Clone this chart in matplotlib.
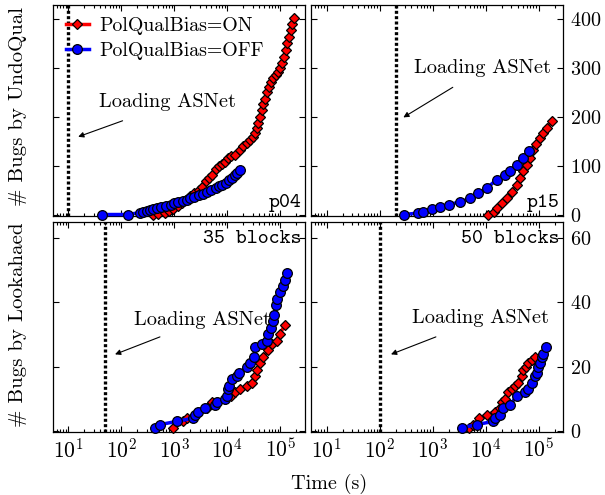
import matplotlib
matplotlib.use('Agg')
import matplotlib.pyplot as plt
from matplotlib.ticker import LogLocator, NullFormatter, FixedLocator

plt.rcParams['font.family'] = 'cmr10'
plt.rcParams['mathtext.fontset'] = 'cm'
plt.rcParams['axes.formatter.use_mathtext'] = True
plt.rcParams['axes.unicode_minus'] = False

# ---------------- data ----------------
# p04 (UndoQual)
p04_on_t = [400, 500, 660, 790, 950, 1150, 1380, 1660, 2000, 2400, 2880, 3290, 3980, 4570,
            5080, 6170, 7000, 7830, 9000, 10400, 12000, 14000, 17000, 20000, 23400, 26800,
            30000, 33300, 36000, 38500, 41500, 44600, 48000, 51400, 56000, 61200, 67000,
            73800, 82000, 91700, 100000, 109000, 118000, 127000, 136000, 146000, 157000,
            168000, 181000]
p04_on_n = [0, 1, 3, 7, 12, 17, 23, 30, 37, 43, 50, 57, 68, 75,
            81, 92, 100, 103, 108, 115, 119, 122, 131, 139, 146, 152,
            159, 166, 176, 186, 200, 213, 225, 237, 250, 261, 270,
            278, 285, 292, 300, 309, 322, 336, 350, 363, 377,
            390, 402]
p04_off_t = [43, 135, 224, 260, 300, 350, 400, 470, 560, 700, 850, 1000, 1200, 1450, 1700,
             2000, 2400, 2900, 3500, 4200, 5000, 6000, 7000, 8000, 9500, 11000, 12500,
             14000, 15500, 17000]
p04_off_n = [0, 0, 4, 6, 8, 10, 12, 14, 16, 18, 20, 23, 26, 28, 30,
             33, 36, 39, 42, 46, 50, 54, 58, 61, 65, 70, 75,
             80, 85, 91]

# p15 (UndoQual)
p15_on_t = [11200, 14100, 16200, 20000, 25100, 30900, 38900, 44700, 51300, 60300, 69200,
            79400, 91200, 107000, 123000, 141000, 182000]
p15_on_n = [0, 6, 13, 23, 33, 47, 60, 74, 88, 101, 115, 132, 145, 156, 166, 176, 192]
p15_off_t = [288, 537, 660, 955, 1380, 2000, 3310, 5130, 7240, 10500, 16200, 23400, 28800,
             38900, 51300, 66100]
p15_off_n = [0, 3, 6, 11, 16, 20, 26, 33, 43, 54, 71, 81, 88, 101, 115, 130]

# 35 blocks (Lookahead)
b35_on_t = [955, 1480, 1700, 2450, 4070, 5100, 9000, 12000, 14000, 17400, 23200, 28800,
            33300, 35700, 41400, 47900, 59000, 68500, 85000, 97000, 123000]
b35_on_n = [1, 3, 4, 5, 7, 9, 10, 11, 12, 13, 14, 15, 17, 19, 21, 23, 25, 27, 28, 30, 33]
b35_off_t = [433, 537, 1110, 2280, 2460, 2840, 3790, 5860, 6480, 9060, 10000, 10400, 10900,
             12100, 15000, 16600, 23200, 26800, 32000, 33300, 44600, 55300, 59400, 65900,
             71900, 76100, 81800, 87700, 98600, 111000, 123000, 136000]
b35_off_n = [1, 2, 3, 4, 5, 6, 7, 8, 9, 10, 11, 13, 14, 16, 17, 18, 20, 21, 23, 26, 27, 28,
             30, 32, 34, 36, 39, 41, 43, 45, 47, 49]

# 50 blocks (Lookahead)
b50_on_t = [4930, 5860, 7600, 10500, 15000, 18600, 20100, 23200, 26800, 30900, 35900, 41400,
            47900, 51400, 57800, 64000, 74100, 85500]
b50_on_n = [1, 2, 4, 5, 6, 7, 9, 10, 12, 13, 14, 15, 17, 19, 20, 21, 22, 23]
b50_off_t = [3540, 6790, 14000, 15000, 18600, 21600, 28900, 38600, 55300, 64000, 74100,
             85500, 92100, 98600, 106000, 114000, 123000, 138000]
b50_off_n = [1, 2, 3, 4, 5, 7, 8, 11, 12, 13, 15, 17, 18, 20, 21, 23, 24, 26]

asnet_load = [10, 200, 50, 100]
panel_tags = ['p04', 'p15', '35 blocks', '50 blocks']
top_yticks = [0, 100, 200, 300, 400]
bot_yticks = [0, 20, 40, 60]

# ---------------- figure ----------------
fig = plt.figure(figsize=(6.05, 4.95), dpi=100)
W, H = 605.0, 495.0
lefts = [52.7, 311.0]
aw = 252.3
rows = [(5.0, 215.5), (221.5, 431.7)]

series = [
    (p04_on_t, p04_on_n, p04_off_t, p04_off_n),
    (p15_on_t, p15_on_n, p15_off_t, p15_off_n),
    (b35_on_t, b35_on_n, b35_off_t, b35_off_n),
    (b50_on_t, b50_on_n, b50_off_t, b50_off_n),
]
# annotation geometry (axes fraction): text center, arrow tail, arrow head
ann = [
    ((0.453, 0.539), (0.277, 0.450), (0.101, 0.374)),
    ((0.678, 0.700), (0.562, 0.609), (0.366, 0.466)),
    ((0.594, 0.531), (0.425, 0.451), (0.247, 0.368)),
    ((0.670, 0.540), (0.495, 0.451), (0.317, 0.368)),
]

axes = []
for i in range(4):
    r, c = divmod(i, 2)
    top, bot = rows[r]
    ax = fig.add_axes([lefts[c] / W, 1 - bot / H, aw / W, (bot - top) / H])
    axes.append(ax)
    on_t, on_n, off_t, off_n = series[i]
    ax.plot(on_t, on_n, '-', color='red', lw=2.5, marker='D', ms=5.5,
            mfc='red', mec='black', mew=0.9, clip_on=False, zorder=3,
            label='PolQualBias=ON')
    ax.plot(off_t, off_n, '-', color='blue', lw=2.5, marker='o', ms=7,
            mfc='blue', mec='black', mew=0.9, clip_on=False, zorder=4,
            label='PolQualBias=OFF')
    ax.axvline(asnet_load[i], color='black', lw=2.4, ls=(0, (0.9, 0.7)), zorder=2)
    ax.set_xscale('log')
    ax.set_xlim(10 ** 0.706, 10 ** 5.466)
    if r == 0:
        ax.set_ylim(-2, 428)
        ax.yaxis.set_major_locator(FixedLocator(top_yticks))
    else:
        ax.set_ylim(-0.2, 65)
        ax.yaxis.set_major_locator(FixedLocator(bot_yticks))
    ax.xaxis.set_major_locator(LogLocator(base=10, numticks=12))
    ax.xaxis.set_minor_locator(LogLocator(base=10, subs=range(2, 10), numticks=12))
    ax.xaxis.set_minor_formatter(NullFormatter())
    ax.tick_params(axis='both', which='both', direction='in', top=True, bottom=True,
                   left=True, right=True, labelsize=14.5, width=0.8)
    ax.tick_params(axis='x', labelsize=15.5)
    ax.tick_params(axis='both', which='major', length=4)
    ax.tick_params(axis='both', which='minor', length=2.2)
    ax.tick_params(axis='y', labelleft=False, labelright=(c == 1), pad=5)
    ax.tick_params(axis='x', labelbottom=(r == 1), pad=4)
    for s in ax.spines.values():
        s.set_linewidth(0.9)

    (tx, ty), tail, head = ann[i]
    ax.text(tx, ty, 'Loading ASNet', transform=ax.transAxes, ha='center', va='center',
            fontsize=14.6)
    ax.annotate('', xy=head, xytext=tail, xycoords='axes fraction',
                textcoords='axes fraction',
                arrowprops=dict(arrowstyle='-|>', lw=0.8, color='black',
                                mutation_scale=8, shrinkA=0, shrinkB=0))
    if r == 0:
        ax.text(0.985, 0.06, panel_tags[i], transform=ax.transAxes, ha='right',
                va='center', fontsize=15, family='cmtt10')
    else:
        ax.text(0.985, 0.915, panel_tags[i], transform=ax.transAxes, ha='right',
                va='center', fontsize=15, family='cmtt10')
    if i == 0:
        ax.legend(loc='upper left', bbox_to_anchor=(0.035, 0.962), frameon=False,
                  fontsize=14.3, handlelength=1.2, handletextpad=0.5, borderaxespad=0,
                  labelspacing=0.35, borderpad=0.2, numpoints=1)

fig.text(18.3 / W, 1 - 106 / H, '# Bugs by UndoQual', rotation=90, ha='center',
         va='center', fontsize=15)
fig.text(18.3 / W, 1 - 325 / H, '# Bugs by Lookahaed', rotation=90, ha='center',
         va='center', fontsize=15)
fig.text(329 / W, 1 - 484 / H, 'Time (s)', ha='center', va='center', fontsize=14.5)

fig.savefig('out.png', dpi=100)
